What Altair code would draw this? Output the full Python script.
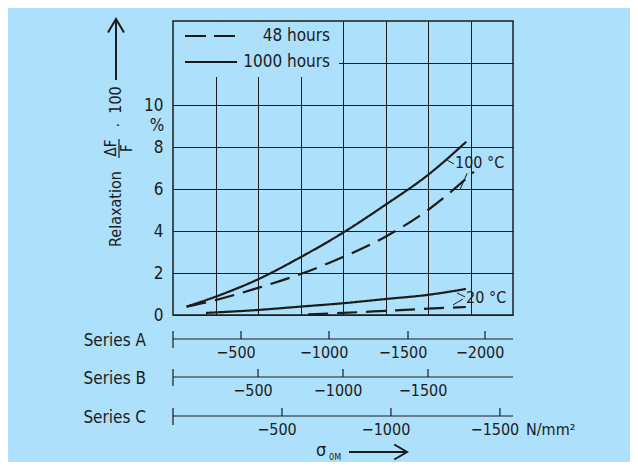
import altair as alt
import pandas as pd

BG = "#ade0fa"
INK = "#1c1c1c"
FONT = "DejaVu Sans Condensed, Liberation Sans Narrow, sans-serif"
FS = 16      # tick labels / annotations
FS_L = 17    # legend and series names

# ---- data (stress on Series B scale, N/mm²; relaxation in %) ----
hot_1000_x = [-80, -250, -500, -750, -1000, -1250, -1500, -1725]
hot_1000_y = [0.40, 0.87, 1.70, 2.75, 3.92, 5.25, 6.67, 8.25]
hot_48_x = [-80, -250, -500, -750, -1000, -1250, -1500, -1770]
hot_48_y = [0.40, 0.71, 1.29, 1.95, 2.76, 3.73, 5.0, 6.82]
cold_1000_x = [-194, -500, -750, -1000, -1250, -1500, -1723]
cold_1000_y = [0.1, 0.24, 0.4, 0.56, 0.76, 0.96, 1.24]
cold_48_x = [-795, -1000, -1250, -1500, -1723]
cold_48_y = [0.03, 0.1, 0.2, 0.3, 0.38]

durations = ["48 hours", "1000 hours"]
y_grid = [0, 2, 4, 6, 8, 10, 12]
x_grid = [-250, -500, -750, -1000, -1250, -1500, -1750]

ticks_a = [-500, -1000, -1500, -2000]
ticks_b = [-500, -1000, -1500]
ticks_c = [-500, -1000, -1500]

temp_labels = ["100 °C", "20 °C"]
temp_x = [-1659, -1724]
temp_y = [7.24, 0.81]

# short leader lines from the temperature labels to the curves
lead_x = [-1612, -1671, -1647, -1730]
lead_y = [7.38, 1.05, 0.48, 6.75]
lead_x2 = [-1653, -1718, -1706, -1690]
lead_y2 = [7.19, 0.86, 0.76, 6.0]

rows = []
for name, dur, xs, ys in [
    ("100C-1000", "1000 hours", hot_1000_x, hot_1000_y),
    ("100C-48", "48 hours", hot_48_x, hot_48_y),
    ("20C-1000", "1000 hours", cold_1000_x, cold_1000_y),
    ("20C-48", "48 hours", cold_48_x, cold_48_y),
]:
    for i, (xv, yv) in enumerate(zip(xs, ys)):
        rows.append({"curve": name, "duration": dur, "stress": xv, "relax": yv, "idx": i})
curves = pd.DataFrame(rows)

W, H = 340, 294
one = pd.DataFrame({"k": [0]})

xscale = alt.Scale(domain=[0, -2000], nice=False, zero=False)
yscale = alt.Scale(domain=[0, 14], nice=False)

lines = alt.Chart(curves).mark_line(color=INK, strokeWidth=2.2, strokeCap="butt",
                                    interpolate="monotone").encode(
    x=alt.X("stress:Q", scale=xscale,
            axis=alt.Axis(values=x_grid, grid=True, labels=False, ticks=False, domain=False,
                          title=None, gridColor=INK, gridWidth=1, gridOpacity=1)),
    y=alt.Y("relax:Q", scale=yscale,
            axis=alt.Axis(values=y_grid, grid=True, ticks=False, domain=False, title=None,
                          labelExpr="datum.value > 10 ? '' : datum.label", labelPadding=10,
                          labelFont=FONT, labelFontSize=FS + 1, labelColor=INK,
                          gridColor=INK, gridWidth=1, gridOpacity=1)),
    detail="curve:N",
    order="idx:Q",
    strokeDash=alt.StrokeDash("duration:N",
                              scale=alt.Scale(domain=durations, range=[[20, 9], [1, 0]]),
                              legend=None),
)

temps = alt.Chart(pd.DataFrame({"t": temp_labels, "x": temp_x, "y": temp_y})).mark_text(
    font=FONT, fontSize=FS, color=INK, align="left", baseline="middle"
).encode(x=alt.X("x:Q", scale=xscale), y=alt.Y("y:Q", scale=yscale), text="t:N")

leaders = alt.Chart(pd.DataFrame({"x": lead_x, "y": lead_y, "x2": lead_x2, "y2": lead_y2})
                    ).mark_rule(color=INK, strokeWidth=1).encode(
    x=alt.X("x:Q", scale=xscale), y=alt.Y("y:Q", scale=yscale), x2="x2:Q", y2="y2:Q")

# legend box (manual, top-left inside the plot)
leg_box = alt.Chart(one).mark_rect(fill=BG, stroke=None).encode(
    x=alt.value(1), x2=alt.value(166), y=alt.value(1), y2=alt.value(56))
leg_dash = alt.Chart(one).mark_rule(color=INK, strokeWidth=2.2, strokeDash=[21, 8]).encode(
    x=alt.value(12), x2=alt.value(63), y=alt.value(15))
leg_solid = alt.Chart(one).mark_rule(color=INK, strokeWidth=2.2).encode(
    x=alt.value(12), x2=alt.value(64), y=alt.value(41))
leg_t1 = alt.Chart(one).mark_text(font=FONT, fontSize=FS_L, color=INK, align="right",
                                  baseline="middle").encode(
    x=alt.value(157), y=alt.value(15), text=alt.value(durations[0]))
leg_t2 = alt.Chart(one).mark_text(font=FONT, fontSize=FS_L, color=INK, align="right",
                                  baseline="middle").encode(
    x=alt.value(157), y=alt.value(41), text=alt.value(durations[1]))


# y title pieces (rotated)
def rot(text, x, y, size=15):
    return alt.Chart(one).mark_text(font=FONT, fontSize=size, color=INK, angle=270,
                                    align="center", baseline="middle").encode(
        x=alt.value(x), y=alt.value(y), text=alt.value(text))


t_relax = rot("Relaxation", -57, 188, 16)
t_df = rot("ΔF", -62, 127)
t_f = rot("F", -46, 127)
t_frac = alt.Chart(one).mark_rule(color=INK, strokeWidth=1.2).encode(
    x=alt.value(-54), y=alt.value(118), y2=alt.value(137))
t_dot = rot("·", -54, 104)
t_100 = rot("100", -57, 79, 16)
t_arrow = alt.Chart(one).mark_rule(color=INK, strokeWidth=2).encode(
    x=alt.value(-57), y=alt.value(59), y2=alt.value(-1))
t_head = alt.Chart(one).mark_point(shape="M-1,1.7L0,0L1,1.7", filled=False, size=256,
                                   color=INK, strokeWidth=2, opacity=1).encode(
    x=alt.value(-57), y=alt.value(-2))
t_pct = alt.Chart(one).mark_text(font=FONT, fontSize=FS + 1, color=INK, align="center",
                                 baseline="middle").encode(
    x=alt.value(-16), y=alt.value(105), text=alt.value("%"))

main = alt.layer(
    lines, temps, leaders, leg_box, leg_dash, leg_solid, leg_t1, leg_t2,
    t_relax, t_df, t_f, t_frac, t_dot, t_100, t_arrow, t_head, t_pct,
).properties(width=W, height=H, view=alt.ViewBackground(stroke=INK, strokeWidth=1.5))


def strip(label, ticks, scale, h, ly, extra=()):
    zero = alt.Chart(pd.DataFrame({"v": [0]}))
    tdf = pd.DataFrame({"v": ticks, "lab": ["\u2212" + str(abs(t)) for t in ticks]})
    base_line = zero.mark_rule(color=INK, strokeWidth=1.2).encode(
        x=alt.value(0), x2=alt.value(W), y=alt.value(ly))
    left_tick = zero.mark_rule(color=INK, strokeWidth=1.2).encode(
        x=alt.X("v:Q", scale=scale, axis=None), y=alt.value(ly - 8), y2=alt.value(ly + 9))
    tk = alt.Chart(tdf).mark_rule(color=INK, strokeWidth=1.2).encode(
        x=alt.X("v:Q", scale=scale, axis=None), y=alt.value(ly - 8), y2=alt.value(ly))
    lab = alt.Chart(tdf).mark_text(font=FONT, fontSize=FS, color=INK, align="center",
                                   baseline="middle", dx=-5).encode(
        x=alt.X("v:Q", scale=scale, axis=None), y=alt.value(ly + 14), text="lab:N")
    name = alt.Chart(one).mark_text(font=FONT, fontSize=FS_L, color=INK, align="right",
                                    baseline="middle").encode(
        x=alt.value(-27), y=alt.value(ly + 2), text=alt.value(label))
    return alt.layer(base_line, left_tick, tk, lab, name, *extra).properties(
        width=W, height=h, view=alt.ViewBackground(stroke=None))


scale_a = alt.Scale(domain=[0, -500, -1000, -1500, -2000], range=[0, 68, 156, 235, 312],
                    nice=False, zero=False)
scale_b = alt.Scale(domain=[0, -2000], nice=False, zero=False)
scale_c = alt.Scale(domain=[0, -1560], nice=False, zero=False)

unit = alt.Chart(one).mark_text(font=FONT, fontSize=FS, color=INK, align="left",
                                baseline="middle").encode(
    x=alt.value(353), y=alt.value(33), text=alt.value("N/mm²"))
sigma = alt.Chart(one).mark_text(font=FONT, fontSize=FS + 2, color=INK, align="center",
                                 baseline="middle").encode(
    x=alt.value(148), y=alt.value(54), text=alt.value("σ"))
sub = alt.Chart(one).mark_text(font=FONT, fontSize=9, color=INK, align="left",
                               baseline="middle").encode(
    x=alt.value(156), y=alt.value(60), text=alt.value("0M"))
arrow = alt.Chart(one).mark_rule(color=INK, strokeWidth=2).encode(
    x=alt.value(176), x2=alt.value(233), y=alt.value(55))
head = alt.Chart(one).mark_point(shape="M-1.7,-1L0,0L-1.7,1", filled=False, size=225,
                                 color=INK, strokeWidth=2, opacity=1).encode(
    x=alt.value(234), y=alt.value(55))

strip_a = strip("Series A", ticks_a, scale_a, 43, 24)
strip_b = strip("Series B", ticks_b, scale_b, 39, 19)
strip_c = strip("Series C", ticks_c, scale_c, 39, 19, extra=(unit, sigma, sub, arrow, head))

chart = alt.vconcat(main, strip_a, strip_b, strip_c, spacing=0, bounds="flush").resolve_scale(
    x="independent", y="independent"
).properties(
    background=BG,
    autosize=alt.AutoSizeParams(type="none"),
    padding={"left": 165, "top": 13, "right": 117, "bottom": 441},
).configure_view(stroke=None)

chart.save("out.html", embed_options={"renderer": "svg", "actions": False})
